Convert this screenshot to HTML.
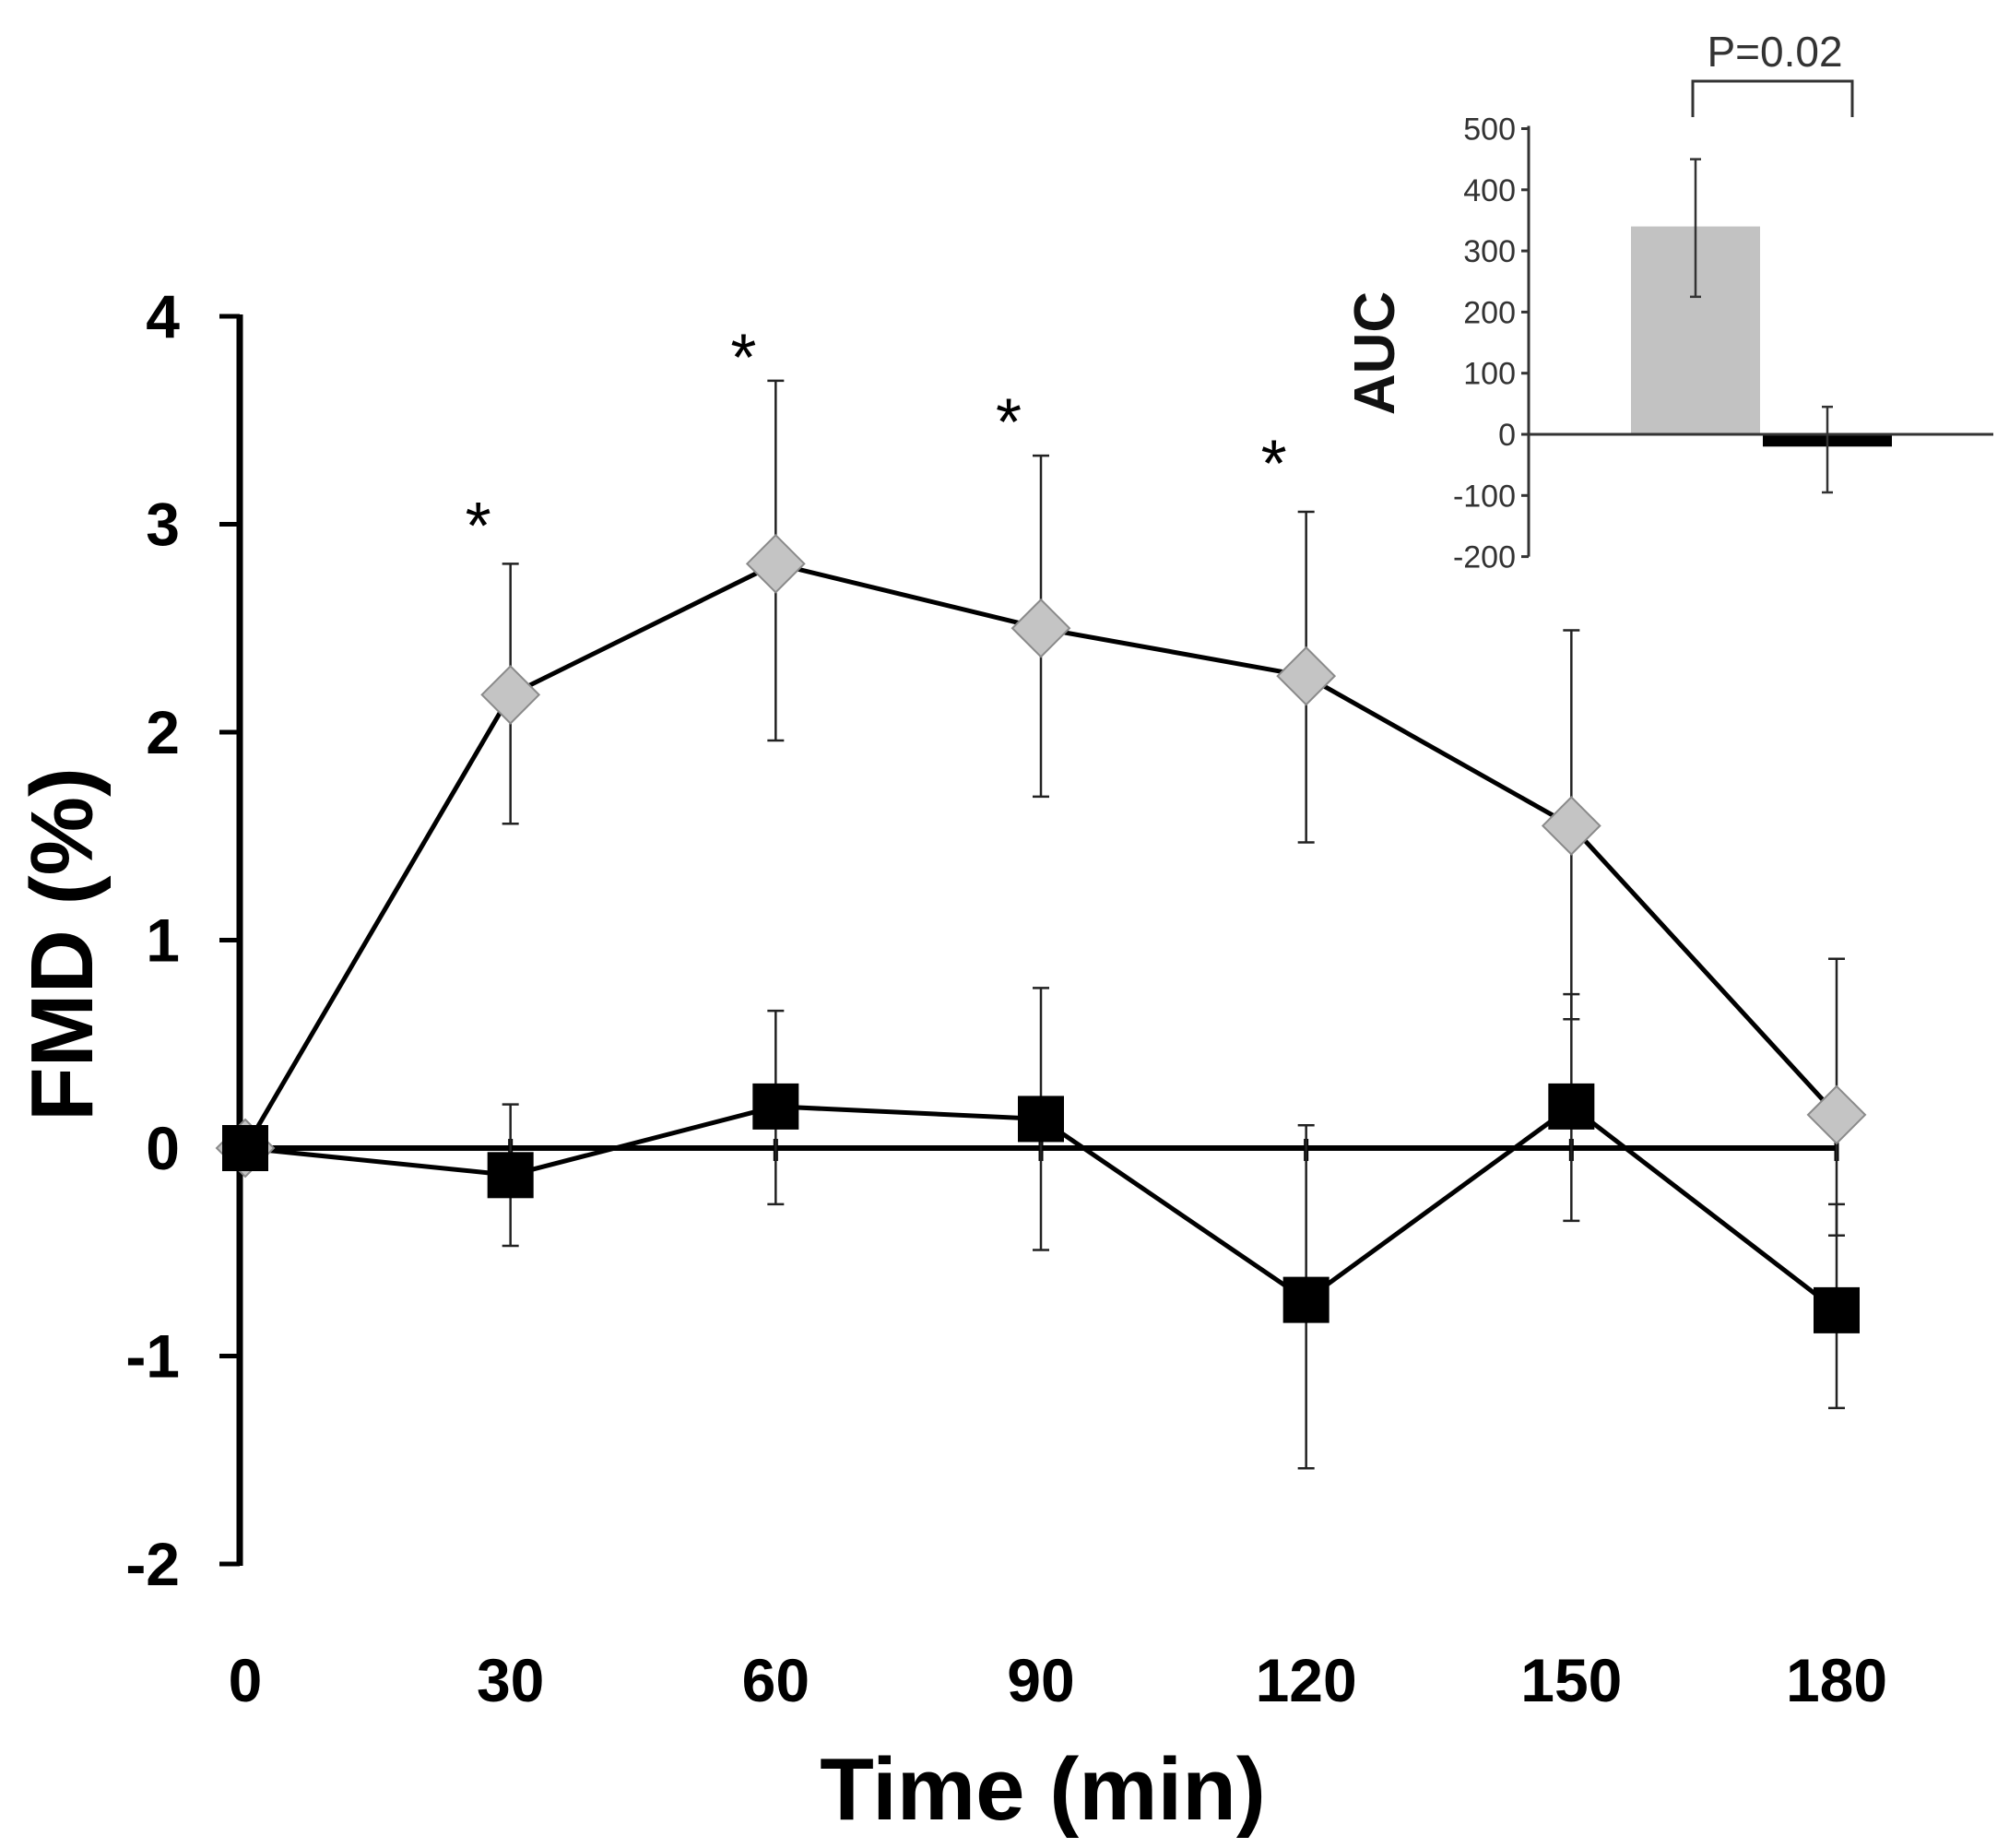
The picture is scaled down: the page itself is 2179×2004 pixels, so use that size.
<!DOCTYPE html>
<html><head><meta charset="utf-8"><style>
body{margin:0;background:#fff}
svg{display:block}
text{font-family:"Liberation Sans",sans-serif}
</style></head><body>
<svg id="c" width="2179" height="2004" xmlns="http://www.w3.org/2000/svg"></svg>
<script>
const times=[0,30,60,90,120,150,180];
const grayVals=[0,2.18,2.81,2.5,2.27,1.55,0.16];
const grayHi=[0,2.81,3.69,3.33,3.06,2.49,0.91];
const grayLo=[0,1.56,1.96,1.69,1.47,0.62,-0.42];
const blackVals=[0,-0.13,0.2,0.14,-0.73,0.2,-0.78];
const blackHi=[0,0.21,0.66,0.77,0.11,0.74,-0.27];
const blackLo=[0,-0.47,-0.27,-0.49,-1.54,-0.35,-1.25];
const starTimes=[30,60,90,120];
const starVals=[3.05,3.86,3.55,3.35];
const yTicks=[4,3,2,1,0,-1,-2];
const aucCats=["A","B"];
const aucVals=[340,-20];
const aucHi=[450,45];
const aucLo=[225,-95];
const aucTicks=[500,400,300,200,100,0,-100,-200];

const NS="http://www.w3.org/2000/svg";
const svg=document.getElementById('c');
function el(t,a,p){const e=document.createElementNS(NS,t);for(const k in a)e.setAttribute(k,a[k]);(p||svg).appendChild(e);return e;}
const X=t=>266+t*(1992-266)/180;
const Y=v=>1245-v*225.5;
let e=el('line',{x1:260,y1:Y(4)-2,x2:260,y2:Y(-2)+2,stroke:'#000','stroke-width':7});

yTicks.forEach(v=>{
 let t=el('line',{x1:238,y1:Y(v),x2:260,y2:Y(v),stroke:'#000','stroke-width':5});
 
 let l=el('text',{x:195,y:Y(v)+23,'text-anchor':'end','font-size':66,'font-weight':'bold'});l.textContent=v;
 
});
e=el('line',{x1:260,y1:Y(0),x2:X(180),y2:Y(0),stroke:'#000','stroke-width':6});

times.forEach(t=>{
 let k=el('line',{x1:X(t),y1:Y(0)-10,x2:X(t),y2:Y(0)+14,stroke:'#000','stroke-width':5});
 
 let l=el('text',{x:X(t),y:1845,'text-anchor':'middle','font-size':66,'font-weight':'bold'});l.textContent=t;
 
});
e=el('text',{x:1131,y:1973,'text-anchor':'middle','font-size':96,'font-weight':'bold'});e.textContent='Time (min)';

e=el('text',{x:0,y:0,transform:'translate(100,1024) rotate(-90)','text-anchor':'middle','font-size':96,'font-weight':'bold'});e.textContent='FMD (%)';

function errs(hi,lo,name){times.forEach((t,i)=>{if(hi[i]===lo[i])return;
 const g=el('g',{stroke:'#222','stroke-width':2.5});
 
 el('line',{x1:X(t),y1:Y(hi[i]),x2:X(t),y2:Y(lo[i])},g);
 el('line',{x1:X(t)-9,y1:Y(hi[i]),x2:X(t)+9,y2:Y(hi[i])},g);
 el('line',{x1:X(t)-9,y1:Y(lo[i]),x2:X(t)+9,y2:Y(lo[i])},g);});}
errs(grayHi,grayLo,'gray-error-bar');errs(blackHi,blackLo,'black-error-bar');
e=el('polyline',{points:times.map((t,i)=>X(t)+','+Y(grayVals[i])).join(' '),fill:'none',stroke:'#000','stroke-width':5});

e=el('polyline',{points:times.map((t,i)=>X(t)+','+Y(blackVals[i])).join(' '),fill:'none',stroke:'#000','stroke-width':5});

times.forEach((t,i)=>{
 const x=X(t),y=Y(grayVals[i]);
 let d=el('polygon',{points:`${x},${y-31} ${x+31},${y} ${x},${y+31} ${x-31},${y}`,fill:'#c4c4c4',stroke:'#8a8a8a','stroke-width':2});
 
});
times.forEach((t,i)=>{
 const x=X(t),y=Y(blackVals[i]);
 let s=el('rect',{x:x-25,y:y-25,width:50,height:50,fill:'#000'});
 
});
starTimes.forEach((t,i)=>{
 let s=el('text',{x:X(t)-35,y:Y(starVals[i])+38,'text-anchor':'middle','font-size':72});s.textContent='*';
 
});
// inset
const AY=v=>471-v*0.663;
const AX=[1839,1982];
e=el('line',{x1:1658,y1:AY(500)-3,x2:1658,y2:AY(-200),stroke:'#333','stroke-width':3});

aucTicks.forEach(v=>{
 let t=el('line',{x1:1650,y1:AY(v),x2:1658,y2:AY(v),stroke:'#333','stroke-width':3});
 
 let l=el('text',{x:1644,y:AY(v)+12,'text-anchor':'end','font-size':34,fill:'#333'});l.textContent=v;
 
});
aucCats.forEach((c,i)=>{
 const v=aucVals[i];
 let b=el('rect',{x:AX[i]-70,y:Math.min(AY(v),AY(0)),width:140,height:Math.abs(AY(v)-AY(0)),fill:i?'#000':'#c2c2c2'});
 
});
e=el('line',{x1:1658,y1:AY(0),x2:2162,y2:AY(0),stroke:'#333','stroke-width':3});

aucCats.forEach((c,i)=>{
 const g=el('g',{stroke:'#333','stroke-width':2.5});
 
 el('line',{x1:AX[i],y1:AY(aucHi[i]),x2:AX[i],y2:AY(aucLo[i])},g);
 el('line',{x1:AX[i]-6,y1:AY(aucHi[i]),x2:AX[i]+6,y2:AY(aucHi[i])},g);
 el('line',{x1:AX[i]-6,y1:AY(aucLo[i]),x2:AX[i]+6,y2:AY(aucLo[i])},g);
});
e=el('polyline',{points:'1836,127 1836,88 2009,88 2009,127',fill:'none',stroke:'#333','stroke-width':3});

e=el('text',{x:1925,y:72,'text-anchor':'middle','font-size':46,fill:'#333'});e.textContent='P=0.02';

e=el('text',{x:0,y:0,transform:'translate(1512,383) rotate(-90)','text-anchor':'middle','font-size':62,'font-weight':'bold',fill:'#111'});e.textContent='AUC';

</script>
</body></html>
